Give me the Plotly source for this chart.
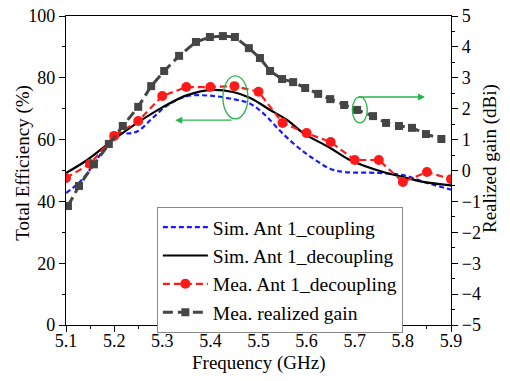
import plotly.graph_objects as go

# Simulated total efficiency, Ant 1 with coupling (%)
sim_coup_f = [5.10, 5.13, 5.16, 5.19, 5.21, 5.23, 5.25, 5.28, 5.31, 5.35, 5.40, 5.45,
              5.48, 5.51, 5.55, 5.59, 5.62, 5.65, 5.68, 5.75, 5.80, 5.85, 5.90]
sim_coup_eff = [42.7, 46.5, 52.5, 59.5, 62.0, 62.0, 62.8, 67.0, 71.0, 74.0, 74.2, 73.0,
                71.8, 68.5, 62.0, 56.5, 53.2, 50.5, 49.5, 49.2, 48.5, 46.0, 43.8]

# Simulated total efficiency, Ant 1 with decoupling (%)
sim_dec_f = [5.10, 5.144, 5.198, 5.248, 5.302, 5.352, 5.405, 5.447, 5.483, 5.524, 5.56,
             5.593, 5.649, 5.69, 5.759, 5.80, 5.842, 5.90]
sim_dec_eff = [49.2, 53.4, 59.9, 65.4, 70.6, 74.4, 76.1, 75.4, 73.5, 69.6, 66.3,
               62.1, 57.3, 53.4, 49.5, 47.9, 46.3, 45.2]

# Measured total efficiency, Ant 1 with decoupling (%)
mea_f = [5.10, 5.15, 5.20, 5.25, 5.30, 5.35, 5.40, 5.45, 5.50, 5.55, 5.60, 5.65,
         5.70, 5.75, 5.80, 5.85, 5.90]
mea_eff = [47.6, 52.1, 61.2, 66.0, 74.1, 77.0, 77.0, 77.3, 75.5, 65.4, 62.1, 59.2,
           53.4, 53.4, 46.3, 49.5, 47.2]

# Measured realized gain (dBi)
gain_f = [5.104, 5.127, 5.158, 5.189, 5.218, 5.250, 5.277, 5.304, 5.335, 5.370,
          5.399, 5.426, 5.451, 5.480, 5.503, 5.524, 5.549, 5.572, 5.597, 5.624,
          5.649, 5.678, 5.705, 5.738, 5.765, 5.792, 5.819, 5.848, 5.880]
gain_dbi = [-1.15, -0.50, 0.20, 0.86, 1.44, 2.06, 2.73, 3.22, 3.71, 4.16,
            4.32, 4.35, 4.32, 3.96, 3.64, 3.22, 2.96, 2.86, 2.67, 2.48,
            2.31, 2.12, 1.96, 1.76, 1.54, 1.44, 1.38, 1.18, 1.02]

x_ticks = [5.1, 5.2, 5.3, 5.4, 5.5, 5.6, 5.7, 5.8, 5.9]
x_tick_text = ["5.1", "5.2", "5.3", "5.4", "5.5", "5.6", "5.7", "5.8", "5.9"]

FONT = "Liberation Serif"
GREEN = "#27b24a"

fig = go.Figure()

fig.add_trace(go.Scatter(
    x=sim_coup_f, y=sim_coup_eff, mode="lines", line_shape="spline",
    name="Sim. Ant 1_coupling",
    line=dict(color="#1a1aff", width=2.2, dash="5px,3px")))

fig.add_trace(go.Scatter(
    x=sim_dec_f, y=sim_dec_eff, mode="lines", line_shape="spline",
    name="Sim. Ant 1_decoupling",
    line=dict(color="black", width=2.2)))

fig.add_trace(go.Scatter(
    x=mea_f, y=mea_eff, mode="lines+markers",
    name="Mea. Ant 1_decoupling",
    line=dict(color="#ff1a1a", width=2.2, dash="7px,4px"),
    marker=dict(symbol="circle", size=10, color="#ff1a1a")))

fig.add_trace(go.Scatter(
    x=gain_f, y=gain_dbi, mode="lines+markers", yaxis="y2",
    name="Mea. realized gain",
    line=dict(color="#454545", width=3, dash="10px,5px"),
    marker=dict(symbol="square", size=8, color="#454545")))

# Green ellipses and arrows pointing each curve group to its axis
fig.add_shape(type="circle", xref="x", yref="y",
              x0=5.426, x1=5.478, y0=66.7, y1=80.6,
              line=dict(color=GREEN, width=1.3))
fig.add_shape(type="circle", xref="x", yref="y2",
              x0=5.695, x1=5.726, y0=1.54, y1=2.38,
              line=dict(color=GREEN, width=1.3))
fig.add_annotation(x=5.327, y=66.3, ax=5.447, ay=66.3, xref="x", yref="y",
                   axref="x", ayref="y", text="", showarrow=True,
                   arrowhead=2, arrowsize=1, arrowwidth=1.4, arrowcolor=GREEN)
fig.add_annotation(x=5.846, y=2.38, ax=5.705, ay=2.38, xref="x", yref="y2",
                   axref="x", ayref="y2", text="", showarrow=True,
                   arrowhead=2, arrowsize=1, arrowwidth=1.4, arrowcolor=GREEN)

# Axis titles
title_font = dict(family=FONT, size=19, color="black")
fig.add_annotation(text="Frequency (GHz)", xref="paper", yref="paper",
                   x=0.5, y=-0.122, xanchor="center", yanchor="middle",
                   showarrow=False, font=title_font)
fig.add_annotation(text="Total Efficiency (%)", xref="paper", yref="paper",
                   x=-0.112, y=0.525, xanchor="center", yanchor="middle",
                   textangle=-90, showarrow=False, font=title_font)
fig.add_annotation(text="Realized gain (dBi)", xref="paper", yref="paper",
                   x=1.101, y=0.54, xanchor="center", yanchor="middle",
                   textangle=-90, showarrow=False, font=title_font)

axis_font = dict(family=FONT, size=18, color="black")

fig.update_layout(
    width=510, height=381,
    margin=dict(l=66, r=59, t=16, b=56, autoexpand=False),
    paper_bgcolor="white", plot_bgcolor="white",
    font=dict(family=FONT, color="black"),
    showlegend=True,
    legend=dict(x=0.236, y=0.382, xanchor="left", yanchor="top",
                bgcolor="white", bordercolor="#888888", borderwidth=1,
                font=dict(family=FONT, size=19.5, color="black"),
                tracegroupgap=0, itemwidth=45),
    xaxis=dict(range=[5.1, 5.9], tickvals=x_ticks, ticktext=x_tick_text,
               ticks="outside", ticklen=6, tickwidth=1.2, tickcolor="black",
               ticklabelstandoff=-7,
               minor=dict(dtick=0.05, tick0=5.1, ticks="outside", ticklen=3,
                          tickcolor="black", showgrid=False),
               showline=True, linecolor="black", linewidth=1.3, mirror=True,
               showgrid=False, zeroline=False, tickfont=axis_font, automargin=False),
    yaxis=dict(range=[0, 100], dtick=20, ticks="outside", ticklen=6,
               tickwidth=1.2, tickcolor="black",
               minor=dict(dtick=10, ticks="outside", ticklen=3,
                          tickcolor="black", showgrid=False),
               showline=True, linecolor="black", linewidth=1.3,
               showgrid=False, zeroline=False, tickfont=axis_font, automargin=False),
    yaxis2=dict(range=[-5, 5], dtick=1, overlaying="y", side="right",
                ticks="outside", ticklen=6, tickwidth=1.2, tickcolor="black",
                minor=dict(dtick=0.5, ticks="outside", ticklen=3,
                           tickcolor="black", showgrid=False),
                showline=True, linecolor="black", linewidth=1.3,
                showgrid=False, zeroline=False, tickfont=axis_font, automargin=False,
                tickformat="d"),
)

fig.write_html("out.html")
